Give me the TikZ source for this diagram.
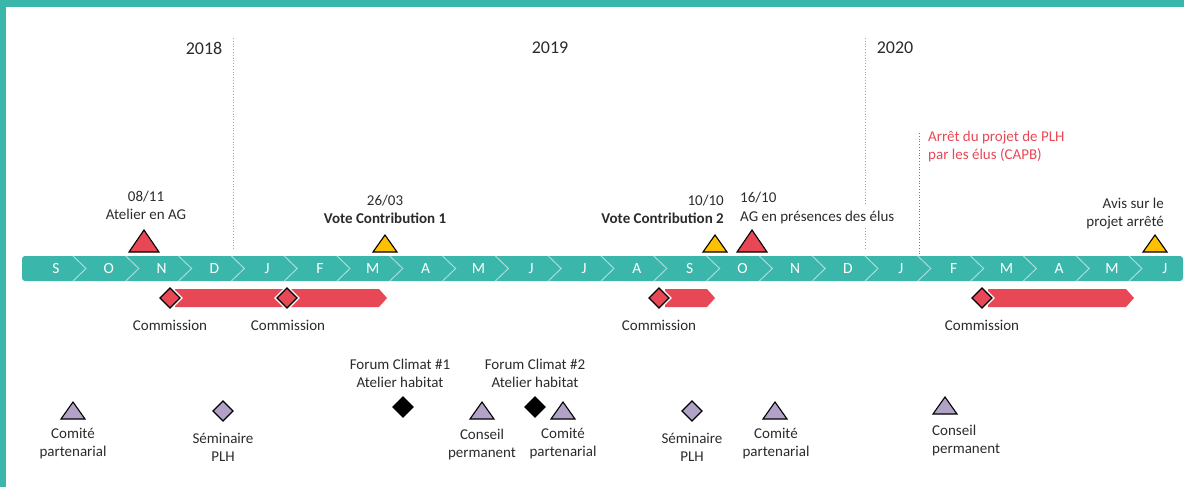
\documentclass[tikz,border=0pt]{standalone}
\usepackage{fontspec}
\setmainfont{Carlito}
\usepackage{xcolor}
\definecolor{Sarcelle}{HTML}{3BB6AA}
\definecolor{Corail}{HTML}{E84855}
\definecolor{Ambre}{HTML}{FFC000}
\definecolor{Lavande}{HTML}{B3A2C7}
\definecolor{Encre}{HTML}{2B2B2B}
\usetikzlibrary{calc}

\tikzset{
  every node/.style={text=Encre, font=\fontsize{15}{18}\selectfont, inner sep=0pt},
  marker/.style={draw=black, line width=1.1pt, line join=miter},
  bigtri/.pic={\draw[marker,pic actions] (-15,0) -- (15,0) -- (0,-22) -- cycle;},
  smalltri/.pic={\draw[marker,pic actions] (-12,0) -- (12,0) -- (0,-17) -- cycle;},
  losange/.pic={\draw[marker,pic actions] (-10,0) -- (0,-10) -- (10,0) -- (0,10) -- cycle;},
  halo/.pic={\draw[white,line width=4pt,line join=miter,pic actions] (-10,0) -- (0,-10) -- (10,0) -- (0,10) -- cycle;},
  yearline/.style={gray!70, dotted, line width=0.8pt},
}

\begin{document}
\begin{tikzpicture}[x=1pt,y=-1pt]
       \useasboundingbox (0,0) rectangle (1184,487);
       % cadre
       \fill[Sarcelle] (0,0) rectangle (1184,7);
       \fill[Sarcelle] (0,0) rectangle (6,487);
       % annees
       \node[font=\fontsize{18}{20}\selectfont] (an18) at (204,48) {2018};
       \node[font=\fontsize{18}{20}\selectfont] (an19) at (550,48) {2019};
       \node[font=\fontsize{18}{20}\selectfont] (an20) at (895,48) {2020};
       \draw[yearline] (233,38) -- (233,250);
       \draw[yearline] (865,38) -- (865,204);
       \draw[yearline] (865,228) -- (865,250);
       \draw[Corail, dotted, line width=0.8pt] (919,133) -- (919,255);
       % frise des mois
       \fill[Sarcelle, rounded corners=3pt] (22,256) rectangle (1183,281);
       \foreach \mo [count=\i from 0] in {S,O,N,D,J,F,M,A,M,J,J,A,S,O,N,D,J,F,M,A,M,J}{
         \pgfmathsetmacro\mx{56+52.8*\i}
         \node[text=white, font=\fontsize{15.5}{18}\selectfont] (mon\i) at (\mx,268.5) {\mo};
       }
       \foreach \i in {0,...,20}{
         \pgfmathsetmacro\mb{73+52.8*\i}
         \draw[white!55!Sarcelle, line width=1pt] (\mb,256) -- ({\mb+13},268.5) -- (\mb,281);
       }
       % evenements au-dessus
       \pic[fill=Corail] at (144,252) {bigtri};
       \pic[fill=Ambre] at (385,252) {smalltri};
       \pic[fill=Ambre] at (715,252) {smalltri};
       \pic[fill=Corail] at (752,252) {bigtri};
       \pic[fill=Ambre] at (1155,252) {smalltri};
       \node[align=center] (atelier) at (146,205) {08/11\\Atelier en AG};
       \node[align=center] (vote1) at (385,209) {26/03\\\textbf{Vote Contribution 1}};
       \node[align=right, anchor=east] (vote2) at (724,209) {10/10\\\textbf{Vote Contribution 2}};
       \node[align=left, anchor=west] (agelus) at (740,208) {16/10\\AG en présences des élus};
       \node[align=right, anchor=east] (avis) at (1164,214) {Avis sur le\\projet arrêté};
       \node[align=left, anchor=west, text=Corail] (arret) at (928,147) {Arrêt du projet de PLH\\par les élus (CAPB)};
       % commissions
       \fill[Corail] (175,289) -- (379,289) -- (387,298) -- (379,307) -- (175,307) -- cycle;
       \fill[Corail] (665,289) -- (707,289) -- (715,298) -- (707,307) -- (665,307) -- cycle;
       \fill[Corail] (988,289) -- (1126,289) -- (1134,298) -- (1126,307) -- (988,307) -- cycle;
       \foreach \cx in {170,287,659,982}{
         \pic at (\cx,298) {halo};
         \pic[fill=Corail] at (\cx,298) {losange};
       }
       \node (com1) at (170,325) {Commission};
       \node (com2) at (288,325) {Commission};
       \node (com3) at (659,325) {Commission};
       \node (com4) at (982,325) {Commission};
       % instances partenariales
       \pic[fill=Lavande] at (73,419) {smalltri};
       \pic[fill=Lavande] at (482,419) {smalltri};
       \pic[fill=Lavande] at (563,419) {smalltri};
       \pic[fill=Lavande] at (775,419) {smalltri};
       \pic[fill=Lavande] at (945,414) {smalltri};
       \pic[fill=Lavande] at (223,411) {losange};
       \pic[fill=Lavande] at (692,411) {losange};
       \foreach \fx in {403,535}{
         \pic[draw=Lavande!70, line width=3pt] at (\fx,407) {halo};
         \pic[fill=black] at (\fx,407) {losange};
       }
       \node[align=center] (comite1) at (73,444) {Comité\\partenarial};
       \node[align=center] (semi1) at (223,447) {Séminaire\\PLH};
       \node[align=center] (forum1) at (400,373) {Forum Climat \#1\\Atelier habitat};
       \node[align=center] (conseil1) at (482,444) {Conseil\\permanent};
       \node[align=center] (forum2) at (535,373) {Forum Climat \#2\\Atelier habitat};
       \node[align=center] (comite2) at (563,444) {Comité\\partenarial};
       \node[align=center] (semi2) at (692,447) {Séminaire\\PLH};
       \node[align=center] (comite3) at (776,444) {Comité\\partenarial};
       \node[align=left, anchor=west] (conseil2) at (932,440) {Conseil\\permanent};
     \end{tikzpicture}
\end{document}
